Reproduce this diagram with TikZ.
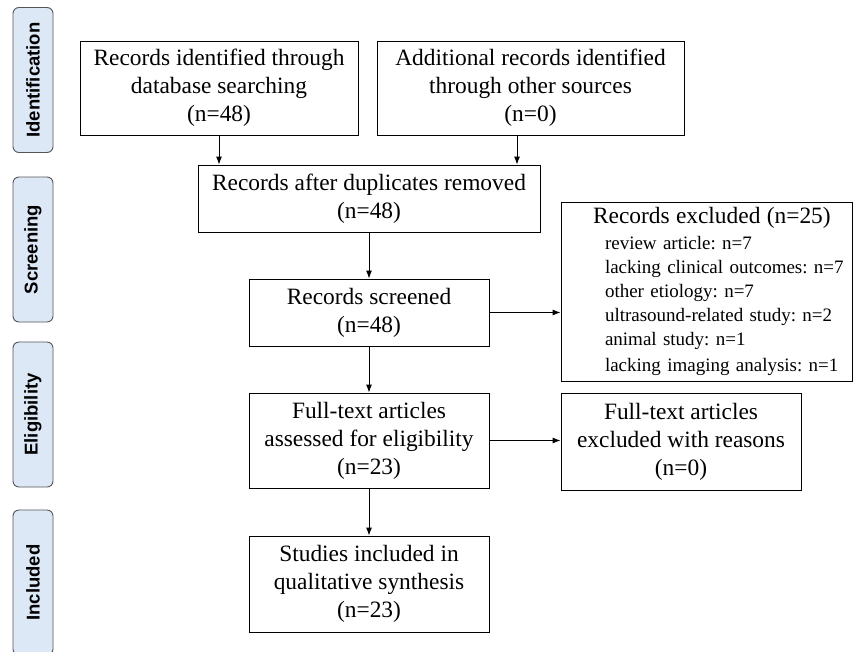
\documentclass[tikz,border=0pt]{standalone}
\usepackage{fontspec}
\setmainfont{Liberation Serif}
\newfontfamily\phasefont{Liberation Sans}
\usetikzlibrary{arrows.meta}
\definecolor{phasefill}{HTML}{DDE8F6}
\definecolor{phaseline}{HTML}{555555}
\frenchspacing
\begin{document}
\begin{tikzpicture}[>={Latex[length=8pt,width=6pt]}, x=1pt, y=-1pt,
  box/.style={draw, line width=0.9pt, align=center, inner sep=0pt,
    font=\fontsize{23.4}{28}\selectfont},
  phase/.style={draw=phaseline, fill=phasefill, line width=0.9pt, rounded corners=6pt,
    rotate=90, minimum width=145pt, minimum height=40pt, inner sep=0pt,
    font=\phasefont\bfseries\fontsize{18.5}{20}\selectfont},
  arr/.style={->, line width=0.9pt}]
  \useasboundingbox (0,0) rectangle (858,651);
  % phases
  \node[phase] (p1) at (33, 80) {Identification};
  \node[phase] (p2) at (33, 249.5) {Screening};
  \node[phase] (p3) at (33, 414.5) {Eligibility};
  \node[phase] (p4) at (33, 582.5) {Included};
  % boxes
  \node[box, minimum width=278pt, minimum height=94pt] (db) at (219, 88) {Records identified through\\database searching\\(n=48)};
  \node[box, minimum width=307pt, minimum height=94pt] (other) at (530.5, 88) {Additional records identified\\through other sources\\(n=0)};
  \node[box, minimum width=342pt, minimum height=67pt] (dedup) at (369, 198.5) {Records after duplicates removed\\(n=48)};
  \node[box, minimum width=240pt, minimum height=67pt] (screen) at (369, 312.5) {Records screened\\(n=48)};
  \node[box, align=left, text width=291pt, minimum height=179pt,
    font=\fontsize{19}{24}\selectfont] (excl) at (706.5, 291.5)
    {\hspace*{32pt}{\fontsize{23.4}{26}\selectfont Records excluded (n=25)}\\[2pt]
     \hspace*{44pt}review article: n=7\\
     \hspace*{44pt}lacking clinical outcomes: n=7\\
     \hspace*{44pt}other etiology: n=7\\
     \hspace*{44pt}ultrasound-related study: n=2\\
     \hspace*{44pt}animal study: n=1\\[2pt]
     \hspace*{44pt}lacking imaging analysis: n=1};
  \node[box, minimum width=240pt, minimum height=95pt] (full) at (369, 440.5) {Full-text articles\\assessed for eligibility\\(n=23)};
  \node[box, minimum width=240pt, minimum height=97pt] (fullex) at (681, 441.5) {Full-text articles\\excluded with reasons\\(n=0)};
  \node[box, minimum width=240pt, minimum height=96pt] (incl) at (369, 584) {Studies included in\\qualitative synthesis\\(n=23)};
  % connectors
  \draw[arr] (db.south) -- (db.south |- dedup.north);
  \draw[arr] ([xshift=-13.5pt]other.south) -- ([xshift=-13.5pt]other.south |- dedup.north);
  \draw[arr] (dedup) -- (screen);
  \draw[arr] (screen.east) -- (screen.east -| excl.west);
  \draw[arr] (screen) -- (full);
  \draw[arr] (full.east) -- (full.east -| fullex.west);
  \draw[arr] (full) -- (incl);
\end{tikzpicture}
\end{document}
